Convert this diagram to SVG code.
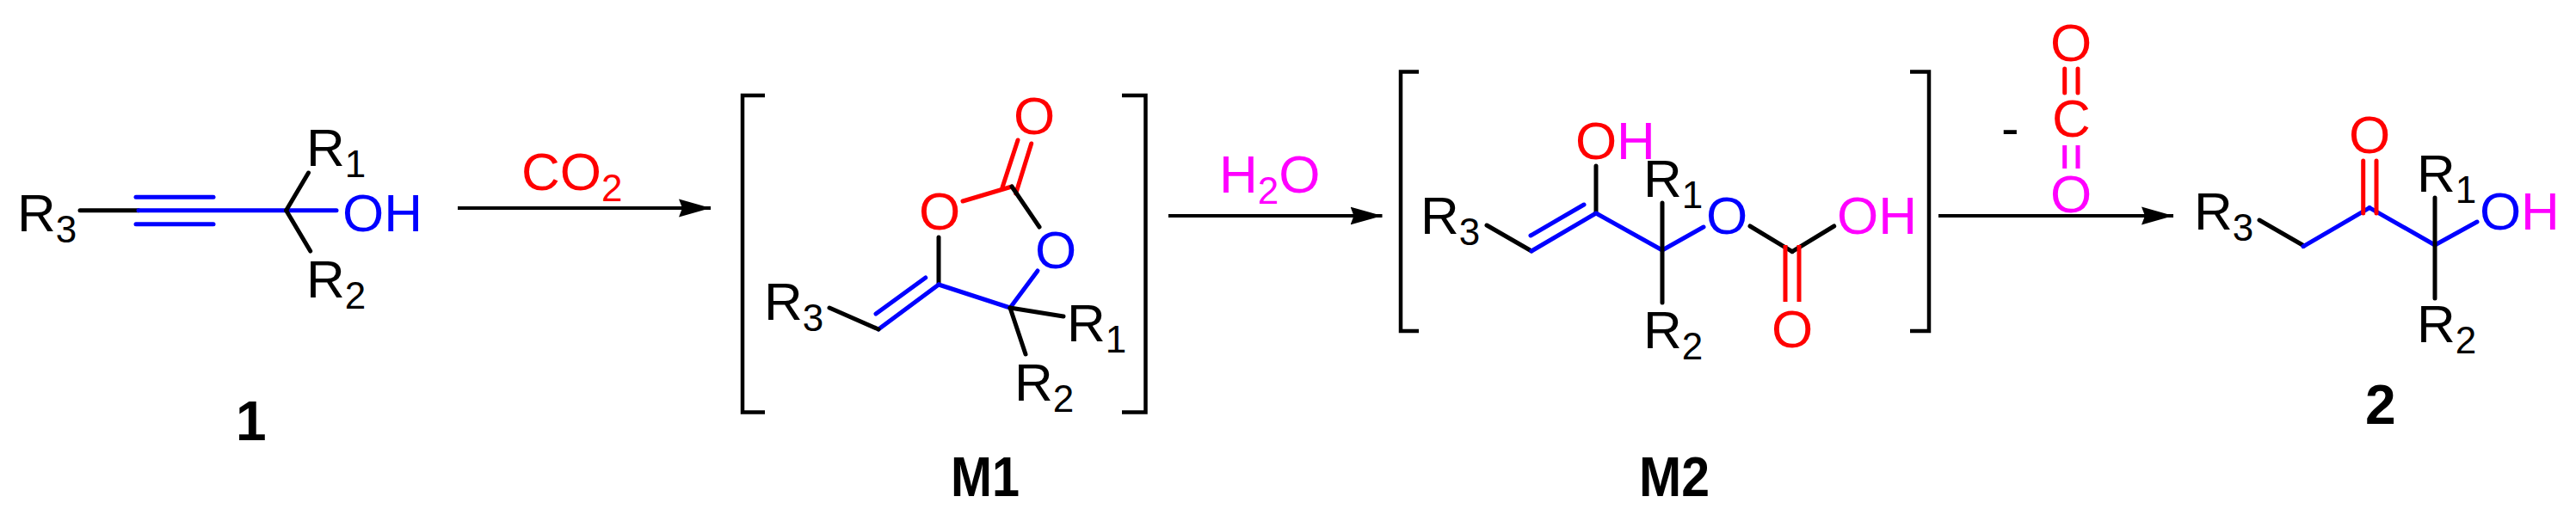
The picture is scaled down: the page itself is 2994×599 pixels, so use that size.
<svg xmlns="http://www.w3.org/2000/svg" width="2994" height="599" viewBox="0 0 2994 599">
<style>
text{font-family:"Liberation Sans",Arial,sans-serif;font-size:62px;fill:#000}
.s{font-size:44px}
.b{font-weight:bold;font-size:64px}
.red{fill:#f00}.blu{fill:#00f}.mag{fill:#f0f}
line{stroke-width:5;fill:none;stroke-linecap:round}
.k{stroke:#000}.r{stroke:#f00}.u{stroke:#00f}.m{stroke:#f0f}
.w{stroke:#000;stroke-width:4;stroke-linecap:butt;marker-end:url(#ah)}
.br{fill:none;stroke:#000;stroke-width:4.5;stroke-linecap:butt}
</style>
<defs><marker id="ah" markerUnits="userSpaceOnUse" markerWidth="40" markerHeight="24" refX="37" refY="11" orient="auto"><path d="M0 0.5L37 11L0 21.500L4 11Z" fill="#000"/></marker></defs>
<rect width="2994" height="599" fill="#fff"/>
<g id="connectors">
<line class="w" x1="532" y1="242" x2="826" y2="242"/>
<line class="w" x1="1358" y1="251" x2="1606.500" y2="251"/>
<line class="w" x1="2253" y1="251" x2="2526" y2="251"/>
</g>
<g id="compound-1">
<text x="20" y="269">R<tspan class="s" dy="13">3</tspan></text>
<line class="k" x1="93" y1="244.700" x2="161" y2="244.700"/>
<line class="u" x1="161" y1="244.700" x2="391" y2="244.700"/>
<line class="u" x1="158" y1="229.300" x2="248" y2="229.300"/>
<line class="u" x1="158" y1="260.700" x2="248" y2="260.700"/>
<line class="k" x1="332.600" y1="244.700" x2="358.500" y2="201"/>
<line class="k" x1="332.600" y1="244.700" x2="360.700" y2="292"/>
<text x="356" y="192.700">R<tspan class="s" dy="13">1</tspan></text>
<text x="398" y="268.700" class="blu">OH</text>
<text x="356" y="346">R<tspan class="s" dy="13">2</tspan></text>
<text x="274" y="512" class="b">1</text>
</g>
<g id="reagent-co2"><text x="606" y="221" class="red">CO<tspan class="s" dy="13">2</tspan></text></g>
<g id="reagent-h2o"><text x="1417" y="223.500" class="mag">H<tspan class="s" dy="13">2</tspan><tspan dy="-13">O</tspan></text></g>
<g id="intermediate-M1">
<path class="br" d="M889 111H863V479.500H889"/>
<path class="br" d="M1304 111H1331.500V479.500H1304"/>
<text x="1178" y="156" class="red">O</text>
<text x="1068" y="267" class="red">O</text>
<text x="1203" y="312" class="blu">O</text>
<line class="r" x1="1183" y1="163" x2="1165" y2="218"/>
<line class="r" x1="1198.700" y1="167" x2="1180.700" y2="225"/>
<line class="r" x1="1119" y1="234" x2="1176" y2="217"/>
<line class="k" x1="1176" y1="217" x2="1208" y2="264"/>
<line class="k" x1="1091" y1="276" x2="1091" y2="330"/>
<line class="u" x1="1091" y1="331" x2="1174" y2="358"/>
<line class="u" x1="1174" y1="358" x2="1206" y2="315"/>
<line class="u" x1="1091" y1="331" x2="1021" y2="383"/>
<line class="u" x1="1075.700" y1="323" x2="1018" y2="365"/>
<line class="k" x1="964" y1="358" x2="1021" y2="383"/>
<line class="k" x1="1174" y1="358" x2="1236" y2="368"/>
<line class="k" x1="1174" y1="358" x2="1192" y2="412"/>
<text x="888" y="371.700">R<tspan class="s" dy="13">3</tspan></text>
<text x="1240" y="396.700">R<tspan class="s" dy="13">1</tspan></text>
<text x="1179" y="466">R<tspan class="s" dy="13">2</tspan></text>
<text x="1105" y="577" class="b" textLength="80" lengthAdjust="spacingAndGlyphs">M1</text>
</g>
<g id="intermediate-M2">
<path class="br" d="M1649 83.500H1628V385H1649"/>
<path class="br" d="M2220 83.500H2242V385H2220"/>
<text x="1651" y="272">R<tspan class="s" dy="13">3</tspan></text>
<line class="k" x1="1728" y1="262" x2="1780" y2="292"/>
<line class="u" x1="1780" y1="292" x2="1855" y2="248"/>
<line class="u" x1="1779" y1="274" x2="1841" y2="238"/>
<line class="k" x1="1855" y1="248" x2="1855" y2="193"/>
<text x="1831" y="185" class="red">O</text><text x="1879" y="185" class="mag">H</text>
<line class="u" x1="1855" y1="248" x2="1932" y2="291"/>
<line class="u" x1="1932" y1="291" x2="1980" y2="264"/>
<line class="k" x1="1932" y1="236" x2="1932" y2="352"/>
<text x="1910" y="229">R<tspan class="s" dy="13">1</tspan></text>
<text x="1910" y="405">R<tspan class="s" dy="13">2</tspan></text>
<text x="1983" y="272" class="blu">O</text>
<line class="k" x1="2034" y1="263" x2="2083" y2="292.700"/>
<line class="k" x1="2083" y1="292.700" x2="2131.700" y2="263"/>
<text x="2135" y="272" class="mag">OH</text>
<line class="r" x1="2075" y1="285" x2="2075" y2="351" style="stroke-linecap:butt"/>
<line class="r" x1="2091" y1="285" x2="2091" y2="351" style="stroke-linecap:butt"/>
<text x="2059" y="404" class="red">O</text>
<text x="1905" y="577" class="b" textLength="82" lengthAdjust="spacingAndGlyphs">M2</text>
</g>
<g id="loss-co2">
<text x="2326" y="170">-</text>
<text x="2383" y="71" class="red">O</text>
<line class="r" x1="2399.700" y1="80" x2="2399.700" y2="108"/>
<line class="r" x1="2415" y1="80" x2="2415" y2="108"/>
<text x="2385" y="159" class="red">C</text>
<line class="m" x1="2399.700" y1="169" x2="2399.700" y2="196" style="stroke-linecap:butt"/>
<line class="m" x1="2415" y1="169" x2="2415" y2="196" style="stroke-linecap:butt"/>
<text x="2383" y="247" class="mag">O</text>
</g>
<g id="compound-2">
<text x="2550" y="266.700">R<tspan class="s" dy="13">3</tspan></text>
<line class="k" x1="2626" y1="256" x2="2678" y2="286"/>
<line class="u" x1="2677" y1="286.700" x2="2754" y2="241.700"/>
<line class="u" x1="2754" y1="241.700" x2="2830" y2="285"/>
<line class="u" x1="2830" y1="285" x2="2879" y2="258"/>
<line class="r" x1="2746.700" y1="187" x2="2746.700" y2="248"/>
<line class="r" x1="2762" y1="187" x2="2762" y2="248"/>
<text x="2730" y="178" class="red">O</text>
<line class="k" x1="2830" y1="230" x2="2830" y2="347"/>
<text x="2809" y="222.700">R<tspan class="s" dy="13">1</tspan></text>
<text x="2882" y="266.700" class="blu">O</text><text x="2930" y="266.700" class="mag">H</text>
<text x="2809" y="398">R<tspan class="s" dy="13">2</tspan></text>
<text x="2749" y="493" class="b">2</text>
</g>
</svg>
